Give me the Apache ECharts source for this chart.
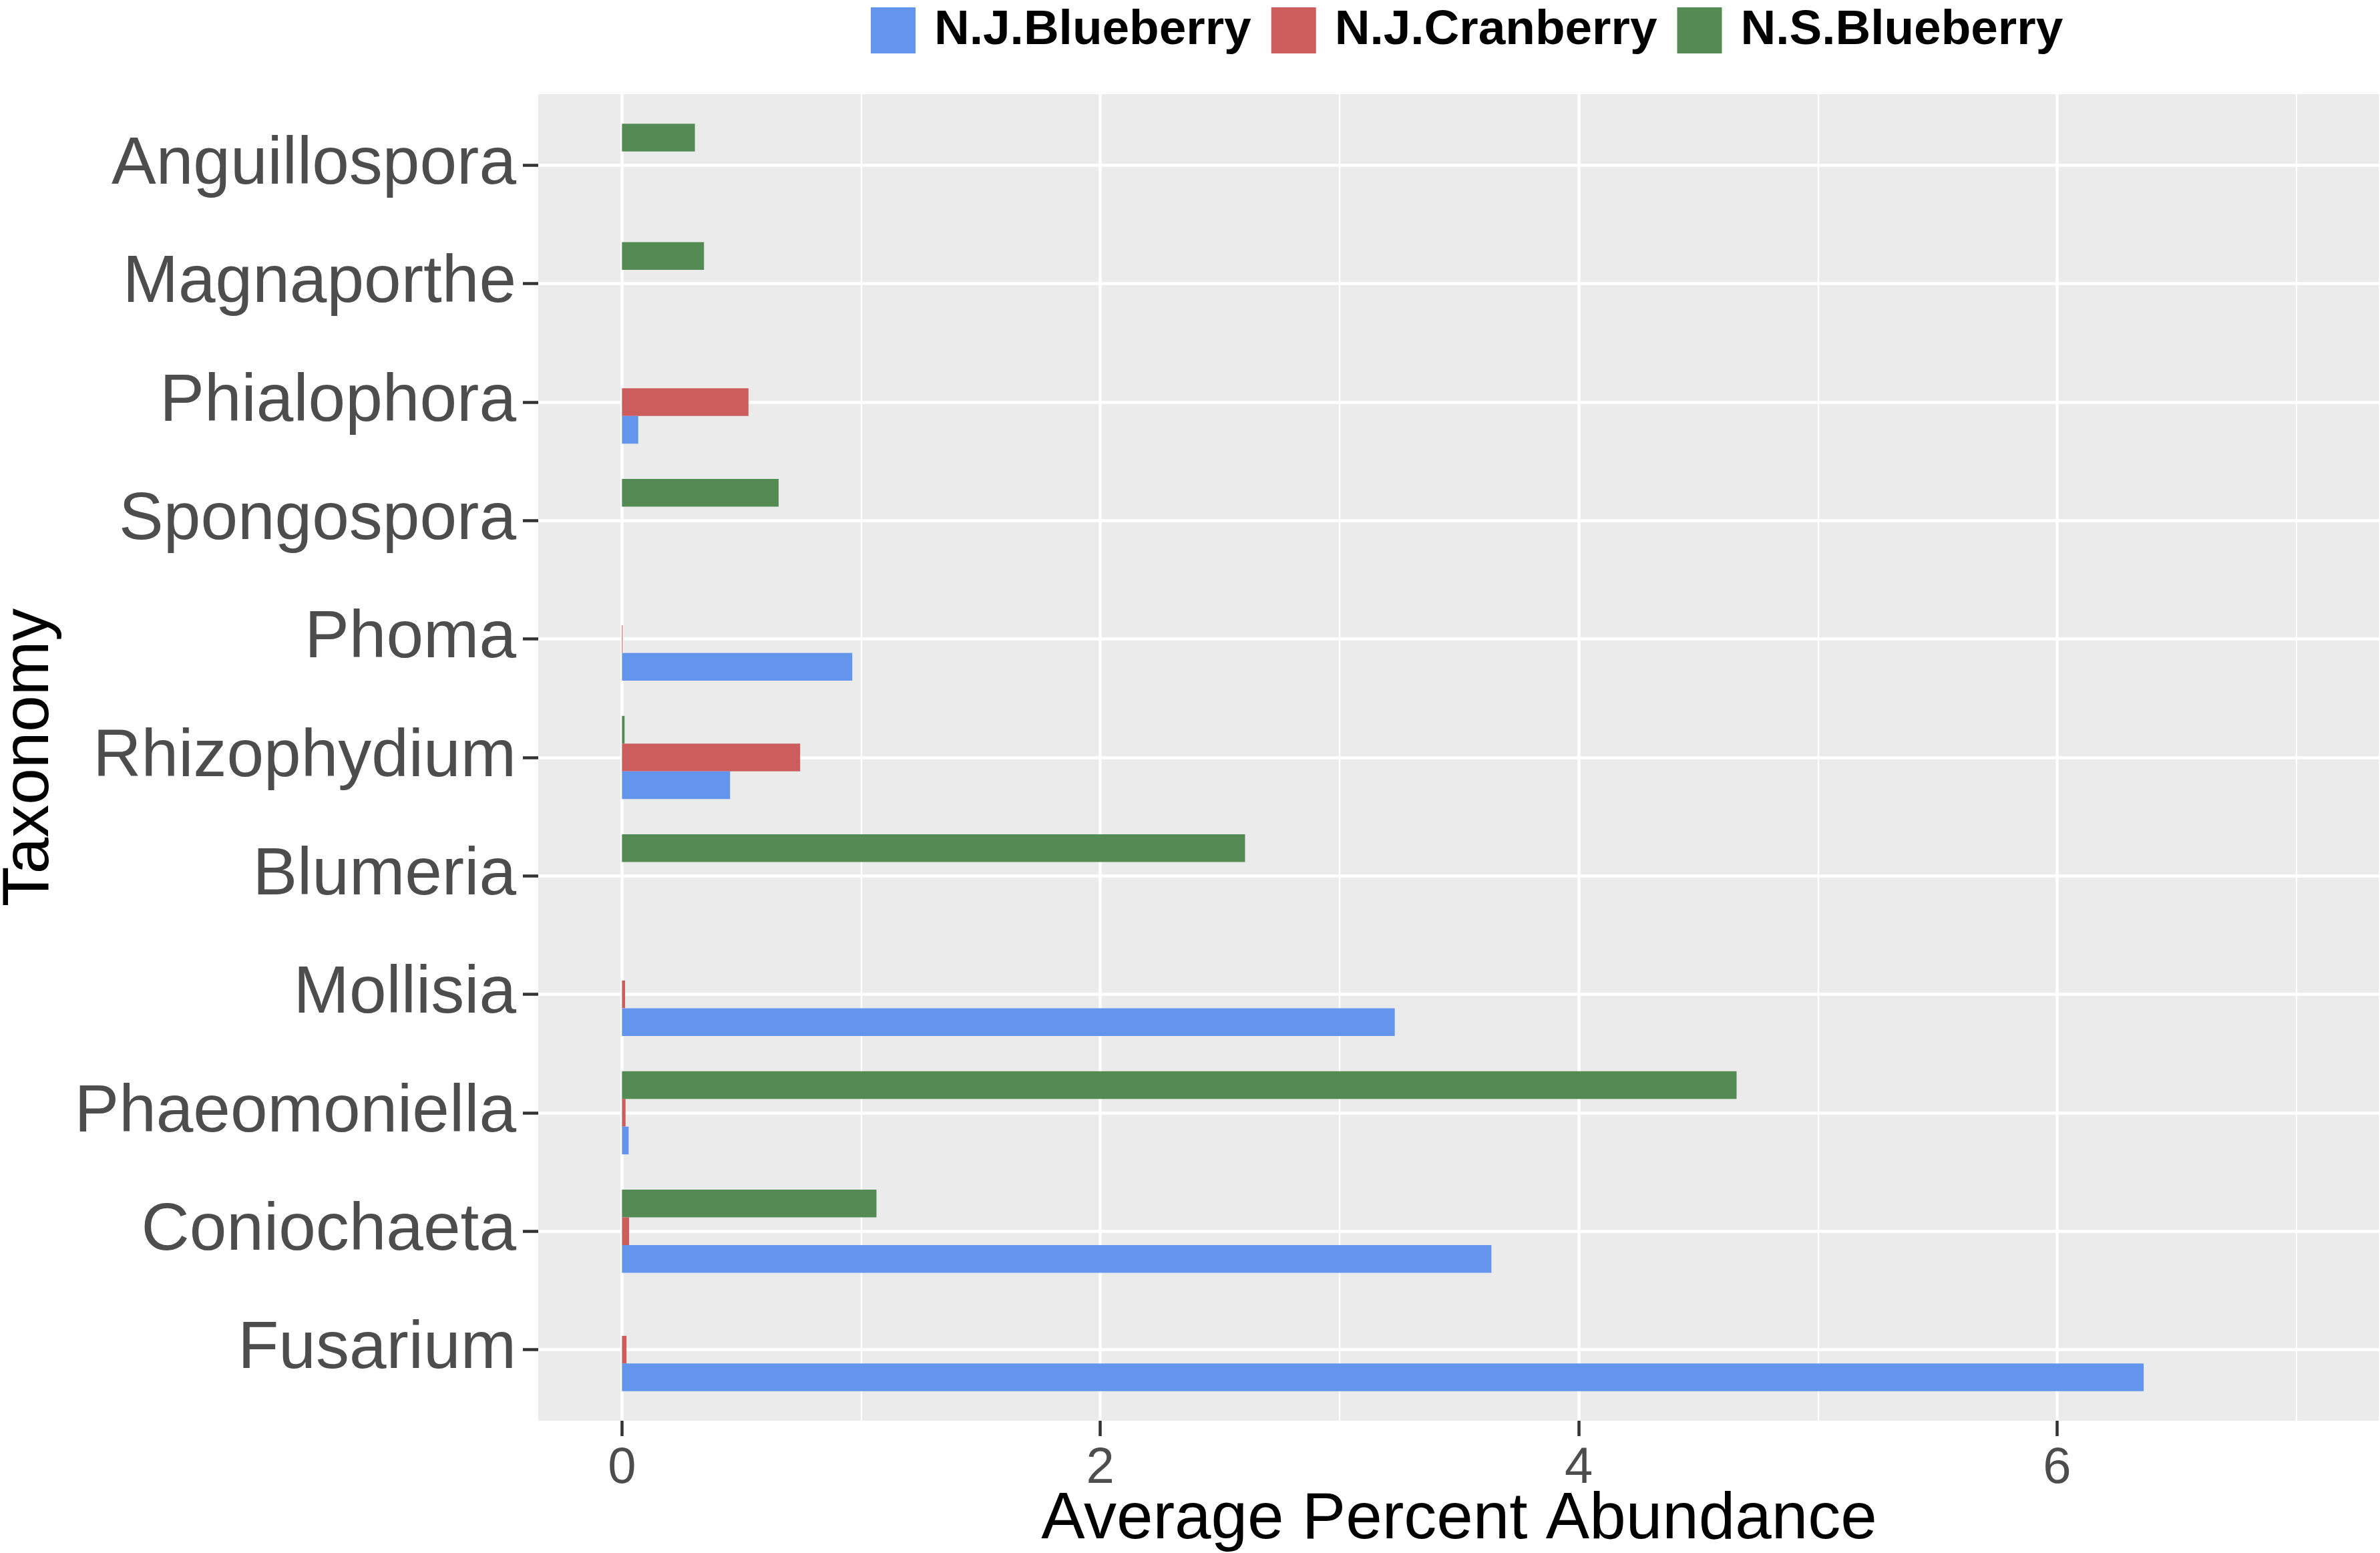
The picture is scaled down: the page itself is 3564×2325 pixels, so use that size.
<!DOCTYPE html>
<html>
<head>
<meta charset="utf-8">
<script src="https://cdn.jsdelivr.net/npm/echarts@6/dist/echarts.min.js"></script>
<style>
html,body{margin:0;padding:0;background:#fff;}
#chart{width:3564px;height:2325px;}
</style>
</head>
<body>
<div id="chart"></div>
<script>
// ---- data (top to bottom as displayed) ----
const categories = ['Anguillospora','Magnaporthe','Phialophora','Spongospora','Phoma','Rhizophydium','Blumeria','Mollisia','Phaeomoniella','Coniochaeta','Fusarium'];
const seriesNames = ['N.J.Blueberry','N.J.Cranberry','N.S.Blueberry'];
const njBlueberry = [0, 0, 0.068, 0, 0.963, 0.452, 0, 3.231, 0.028, 3.635, 6.362];
const njCranberry = [0, 0, 0.529, 0, 0.003, 0.745, 0, 0.013, 0.015, 0.030, 0.019];
const nsBlueberry = [0.305, 0.343, 0, 0.655, 0, 0.011, 2.605, 0, 4.660, 1.064, 0];
const xTickValues = [0, 2, 4, 6];
const xMin = -0.35, xMax = 7.35;

const colors = ['#6495ED', '#CD5C5C', '#548B54'];
const FONT = 'Liberation Sans, Arial, Helvetica, sans-serif';

// ---- layout ----
const W = 3564, H = 2325;
const panelLeft = 806, panelTop = 141, panelBottom = 198; // bottom margin
const unit = (W - panelLeft) / (xMax - xMin);
const zeroLeft = panelLeft + (0 - xMin) * unit;
const panelH = H - panelTop - panelBottom;
const band = panelH / (categories.length - 1 + 1.2);
const catTop = panelTop + 0.6 * band;
const catBottom = panelBottom + 0.6 * band;

const chart = echarts.init(document.getElementById('chart'), null, {renderer: 'canvas', width: W, height: H});

const barCommon = {type: 'bar', xAxisIndex: 3, yAxisIndex: 2, barWidth: 41.5, barGap: '0%', clip: false};

const option = {
  backgroundColor: '#ffffff',
  animation: false,
  legend: {
    data: seriesNames,
    left: 1299,
    top: 4,
    icon: 'rect',
    itemWidth: 67,
    itemHeight: 69,
    itemGap: 30,
    textStyle: {fontFamily: FONT, fontSize: 73, fontWeight: 'bold', color: '#000', padding: [0, 0, 0, 23]}
  },
  grid: [
    {left: panelLeft, top: panelTop, right: 0, bottom: panelBottom, show: true, backgroundColor: '#EBEBEB', borderWidth: 0, containLabel: false, outerBoundsMode: 'none'},
    {left: zeroLeft, top: panelTop, right: 0, bottom: panelBottom, show: false, containLabel: false, outerBoundsMode: 'none'},
    {left: panelLeft, top: catTop, right: 0, bottom: catBottom, show: false, containLabel: false, outerBoundsMode: 'none'}
  ],
  xAxis: [
    { // panel: x title
      gridIndex: 0, type: 'value', min: xMin, max: xMax,
      axisLine: {show: false, onZero: false}, axisTick: {show: false}, axisLabel: {show: false}, splitLine: {show: false},
      name: 'Average Percent Abundance', nameLocation: 'middle', nameGap: 100,
      nameTextStyle: {fontFamily: FONT, fontSize: 98, color: '#000'}
    },
    { // major ticks / labels / gridlines
      gridIndex: 1, type: 'value', min: 0, max: xMax, interval: 2, position: 'bottom',
      axisLine: {show: false, onZero: false},
      axisTick: {show: true, length: 23, lineStyle: {color: '#333333', width: 4.5}},
      axisLabel: {show: true, fontFamily: FONT, fontSize: 76, color: '#4d4d4d', margin: 34, showMaxLabel: false,
        formatter: function (v) { return xTickValues.indexOf(v) >= 0 ? String(v) : ''; }},
      splitLine: {show: true, lineStyle: {color: '#ffffff', width: 4.5}}
    },
    { // minor gridlines
      gridIndex: 1, type: 'value', min: 0, max: xMax, interval: 1, position: 'bottom',
      axisLine: {show: false, onZero: false}, axisTick: {show: false}, axisLabel: {show: false},
      splitLine: {show: true, lineStyle: {color: '#ffffff', width: 2.3}}
    },
    { // bars
      gridIndex: 2, type: 'value', min: xMin, max: xMax,
      axisLine: {show: false, onZero: false}, axisTick: {show: false}, axisLabel: {show: false}, splitLine: {show: false}
    }
  ],
  yAxis: [
    {gridIndex: 0, type: 'value', show: false, min: 0, max: 1, axisLine: {onZero: false}},
    {gridIndex: 1, type: 'value', show: false, min: 0, max: 1, axisLine: {onZero: false}},
    {
      gridIndex: 2, type: 'category', data: categories, inverse: true, boundaryGap: false, position: 'left',
      axisLine: {show: false, onZero: false},
      axisTick: {show: true, length: 23, interval: 0, lineStyle: {color: '#333333', width: 4.5}},
      axisLabel: {show: true, interval: 0, fontFamily: FONT, fontSize: 100, color: '#4d4d4d', margin: 33, padding: [14, 0, 0, 0]},
      splitLine: {show: true, interval: 0, lineStyle: {color: '#ffffff', width: 4.5}},
      name: 'Taxonomy', nameLocation: 'middle', nameGap: 712,
      nameTextStyle: {fontFamily: FONT, fontSize: 98, color: '#000'}
    }
  ],
  // series drawn top-to-bottom within each category: N.S.Blueberry, N.J.Cranberry, N.J.Blueberry
  series: [
    Object.assign({name: seriesNames[2], data: nsBlueberry, itemStyle: {color: colors[2]}}, barCommon),
    Object.assign({name: seriesNames[1], data: njCranberry, itemStyle: {color: colors[1]}}, barCommon),
    Object.assign({name: seriesNames[0], data: njBlueberry, itemStyle: {color: colors[0]}}, barCommon)
  ]
};
chart.setOption(option);
</script>
</body>
</html>
